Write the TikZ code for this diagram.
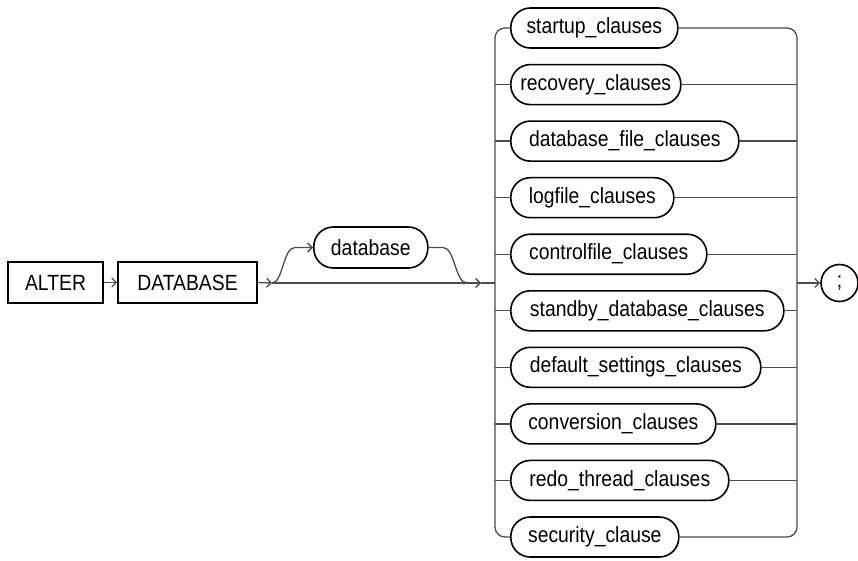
\documentclass[tikz,border=0pt]{standalone}
\usepackage{fontspec}
\setmainfont{Liberation Sans}[FakeStretch=0.88]
\usetikzlibrary{arrows.meta}
\begin{document}
\begin{tikzpicture}[x=1pt,y=-1pt,
  conn/.style={draw=black!70, line width=1.3pt},
  tip/.style={-{Straight Barb[length=4.5pt,width=9pt,line width=1.3pt]}},
  kw/.style={draw, line width=1.6pt, rectangle, minimum height=41pt, inner sep=0pt,
    font=\fontsize{22}{24}\selectfont},
  item/.style={draw, line width=1.6pt, rectangle, rounded corners=19.5pt, minimum height=40pt,
    inner sep=0pt, anchor=west, font=\fontsize{22}{24}\selectfont},
]
\useasboundingbox (0,0) rectangle (858,561);
% keywords
\node[kw, minimum width=95pt] (alter) at (55.5,282.5) {ALTER};
\node[kw, minimum width=139pt] (dbkw) at (187.5,282.5) {DATABASE};
\node[item, minimum width=114pt, minimum height=41pt] (dbopt) at (313,247.5) {database};
% clause items
\node[item, minimum width=167pt] (i1) at (510,28) {startup\_clauses};
\node[item, minimum width=170pt] (i2) at (510,84.6) {recovery\_clauses};
\node[item, minimum width=228pt] (i3) at (510,141.1) {database\_file\_clauses};
\node[item, minimum width=163pt] (i4) at (510,197.7) {logfile\_clauses};
\node[item, minimum width=196pt] (i5) at (510,254.2) {controlfile\_clauses};
\node[item, minimum width=273pt] (i6) at (510,310.8) {standby\_database\_clauses};
\node[item, minimum width=250pt] (i7) at (510,367.3) {default\_settings\_clauses};
\node[item, minimum width=205pt] (i8) at (510,423.9) {conversion\_clauses};
\node[item, minimum width=218pt] (i9) at (510,480.4) {redo\_thread\_clauses};
\node[item, minimum width=168pt] (i10) at (510,537) {security\_clause};
% terminator
\node[draw, line width=1.6pt, circle, minimum size=37pt, inner sep=0pt,
  font=\fontsize{22}{24}\selectfont] (semi) at (839.5,283) {;};
% coordinates
\coordinate (railL) at (495,283);
\coordinate (railR) at (797,283);
\coordinate (j1) at (272,283);
\coordinate (j2) at (481,283);
\coordinate (j3) at (467,283);
% connectors
\draw[conn, tip] (alter.east) -- (dbkw.west);
\draw[conn, tip] (dbkw.east) -- (j1);
\draw[conn, tip] (j1) -- (j2);
\draw[conn] (j2) -- (railL);
\draw[conn, tip] (j1) .. controls (283,283) and (283,247.5) .. (295,247.5) -- (dbopt.west);
\draw[conn] (dbopt.east) -- (443,247.5) .. controls (455,247.5) and (455,283) .. (j3);
% rails
\draw[conn, rounded corners=10pt] (i1.west) -| (railL) |- (i10.west);
\draw[conn, rounded corners=10pt] (i1.east) -| (railR) |- (i10.east);
\foreach \n in {i2,i3,i4,i5,i6,i7,i8,i9} {
  \draw[conn] (railL |- \n.west) -- (\n.west);
  \draw[conn] (\n.east) -- (railR |- \n.east);
}
\draw[conn, tip] (railR) -- (semi.west);
\end{tikzpicture}
\end{document}
